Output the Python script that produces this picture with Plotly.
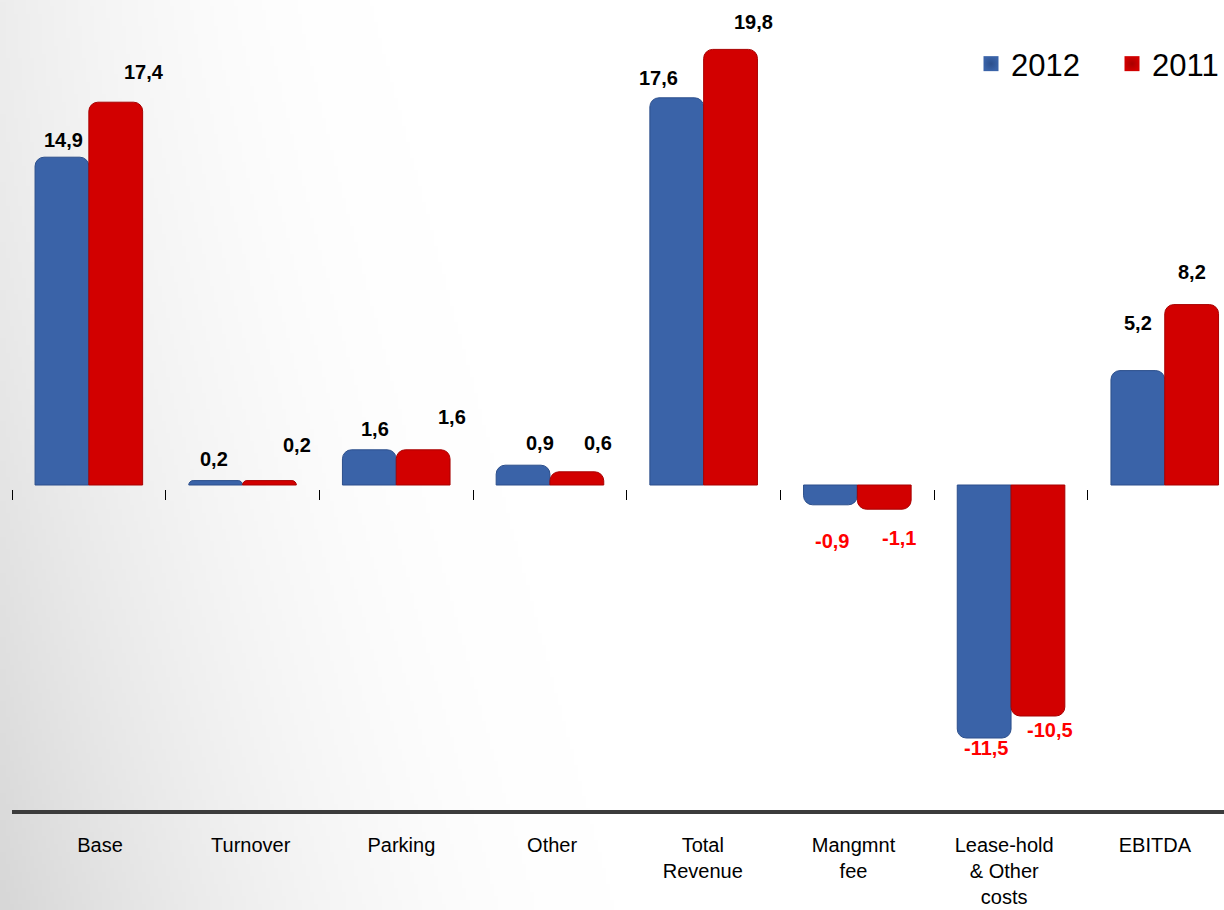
import base64
import struct
import zlib

import numpy as np
import plotly.graph_objects as go

# Categories and values (EUR m)
categories = ["Base", "Turnover", "Parking", "Other", "Total<br>Revenue",
              "Mangmnt<br>fee", "Lease-hold<br>& Other<br>costs", "EBITDA"]
values_2012 = [14.9, 0.2, 1.6, 0.9, 17.6, -0.9, -11.5, 5.2]
values_2011 = [17.4, 0.2, 1.6, 0.6, 19.8, -1.1, -10.5, 8.2]
series_names = ["2012", "2011"]

# Label offsets (px): horizontal nudge and distance of label centre from bar end
label_dx_2012 = [2, -2, 6, 17, -18, 2, 2, 0]
label_dy_2012 = [17, 22, 21, 22, 20, 36, 10, 48]
label_dx_2011 = [28, 28, 29, 21, 23, 15, 12, 0]
label_dy_2011 = [30, 36, 33, 29, 27, 29, 14, 33]

W, H = 1224, 910
ML, MB, MT = 12, 100, 0
plot_w = W - ML
plot_h = H - MB - MT
zero_px = 485          # zero line, px from top
px_per_unit = 22.0
y_hi = (zero_px - MT) / px_per_unit
y_lo = -(MT + plot_h - zero_px) / px_per_unit
cat_px = 153.7
x_lo = -0.5
x_hi = x_lo + plot_w / cat_px

blue = "#3A63A8"
red = "#D20000"
blue_edge = "#2C4F8C"
red_edge = "#A80000"


def grey_backdrop_png(w, h):
    """Soft grey shading on the left side, strongest toward the bottom-left corner."""
    ys, xs = np.mgrid[0:h, 0:w].astype(float)
    fx = xs / (w - 1)
    fy = ys / (h - 1)
    reach = 0.30 + 0.20 * fy          # how far right the shading extends
    depth = 18 + 22 * fy ** 1.5       # grey depth at the left edge
    t = np.clip(1 - fx / reach, 0, 1)
    shade = depth * t ** 1.8
    img = np.clip(255 - shade, 0, 255).astype(np.uint8)
    raw = b"".join(b"\x00" + img[r].tobytes() for r in range(h))

    def chunk(tag, data):
        c = struct.pack(">I", len(data)) + tag + data
        return c + struct.pack(">I", zlib.crc32(tag + data) & 0xFFFFFFFF)

    png = (b"\x89PNG\r\n\x1a\n"
           + chunk(b"IHDR", struct.pack(">IIBBBBB", w, h, 8, 0, 0, 0, 0))
           + chunk(b"IDAT", zlib.compress(raw, 9))
           + chunk(b"IEND", b""))
    return "data:image/png;base64," + base64.b64encode(png).decode()


fig = go.Figure()
xs_idx = list(range(len(categories)))
fig.add_trace(go.Bar(x=xs_idx, y=values_2012, name=series_names[0], showlegend=False,
                     marker=dict(color=blue, line=dict(color=blue_edge, width=1), cornerradius=9),
                     hoverinfo="skip"))
fig.add_trace(go.Bar(x=xs_idx, y=values_2011, name=series_names[1], showlegend=False,
                     marker=dict(color=red, line=dict(color=red_edge, width=1), cornerradius=9),
                     hoverinfo="skip"))

# legend entries with square swatches
for nm, col, edge in ((series_names[0], blue, blue_edge), (series_names[1], red, red_edge)):
    fig.add_trace(go.Scatter(x=[None], y=[None], mode="markers", name=nm,
                             marker=dict(symbol="square", size=15, color=col,
                                         gradient=dict(type="radial", color=edge),
                                         line=dict(width=0))))

# invisible trace carrying the zero-line tick axis
fig.add_trace(go.Scatter(x=[x_lo, x_hi], y=[0, 0], xaxis="x2", mode="lines",
                         line=dict(width=0), showlegend=False, hoverinfo="skip", opacity=0))

bargap = 0.3
half = (1 - bargap) / 4  # centre offset of each bar within its group

annotations = []
for vals, dxs, dys, sign in ((values_2012, label_dx_2012, label_dy_2012, -1),
                             (values_2011, label_dx_2011, label_dy_2011, 1)):
    for i, v in enumerate(vals):
        txt = f"{v:.1f}".replace(".", ",")
        up = v >= 0
        annotations.append(dict(
            x=i + sign * half, y=v, xref="x", yref="y", text=f"<b>{txt}</b>",
            showarrow=False, xanchor="center", yanchor="middle",
            xshift=dxs[i], yshift=dys[i] if up else -dys[i],
            font=dict(family="Liberation Sans, Arial", size=20,
                      color="#000000" if up else "#FF0000")))

zero_pos = (0 - y_lo) / (y_hi - y_lo) - 4 / plot_h

# category label positions along the bottom axis (slightly tighter pitch than the bars)
label_pitch = 150.7
label_first_px = 100
label_vals = [x_lo + (label_first_px - ML + i * label_pitch) / cat_px for i in range(len(categories))]

fig.update_layout(
    width=W, height=H,
    margin=dict(l=ML, r=0, t=MT, b=MB, autoexpand=False),
    paper_bgcolor="#FFFFFF", plot_bgcolor="rgba(0,0,0,0)",
    barmode="group", bargap=bargap, bargroupgap=0,
    font=dict(family="Liberation Sans, Arial", color="#000000"),
    showlegend=True,
    legend=dict(orientation="h", x=(971 - ML) / plot_w, xanchor="left",
                y=(plot_h - 37) / plot_h, yanchor="top",
                font=dict(size=31, color="#000000"), bgcolor="rgba(0,0,0,0)",
                itemwidth=30, entrywidth=96, traceorder="normal"),
    xaxis=dict(range=[x_lo, x_hi], tickmode="array", tickvals=label_vals,
               ticktext=categories, showgrid=False, zeroline=False,
               showline=True, linecolor="#3C3C3C", linewidth=4, mirror=False,
               ticks="", tickfont=dict(size=20, color="#000000"), ticklabelstandoff=14),
    xaxis2=dict(overlaying="x", anchor="free", position=zero_pos, side="bottom",
                range=[x_lo, x_hi], tickmode="array",
                tickvals=[i - 0.5 for i in range(len(categories) + 1)],
                showticklabels=False, ticks="outside", ticklen=10, tickwidth=1,
                tickcolor="#000000", showline=False, showgrid=False, zeroline=False),
    yaxis=dict(range=[y_lo, y_hi], visible=False, showgrid=False, zeroline=False),
    annotations=annotations,
    images=[dict(source=grey_backdrop_png(306, 228), xref="paper", yref="paper",
                 x=-ML / plot_w, y=1 + MT / plot_h, sizex=W / plot_w, sizey=H / plot_h,
                 xanchor="left", yanchor="top", sizing="stretch", layer="below")],
)

fig.write_html("out.html")
